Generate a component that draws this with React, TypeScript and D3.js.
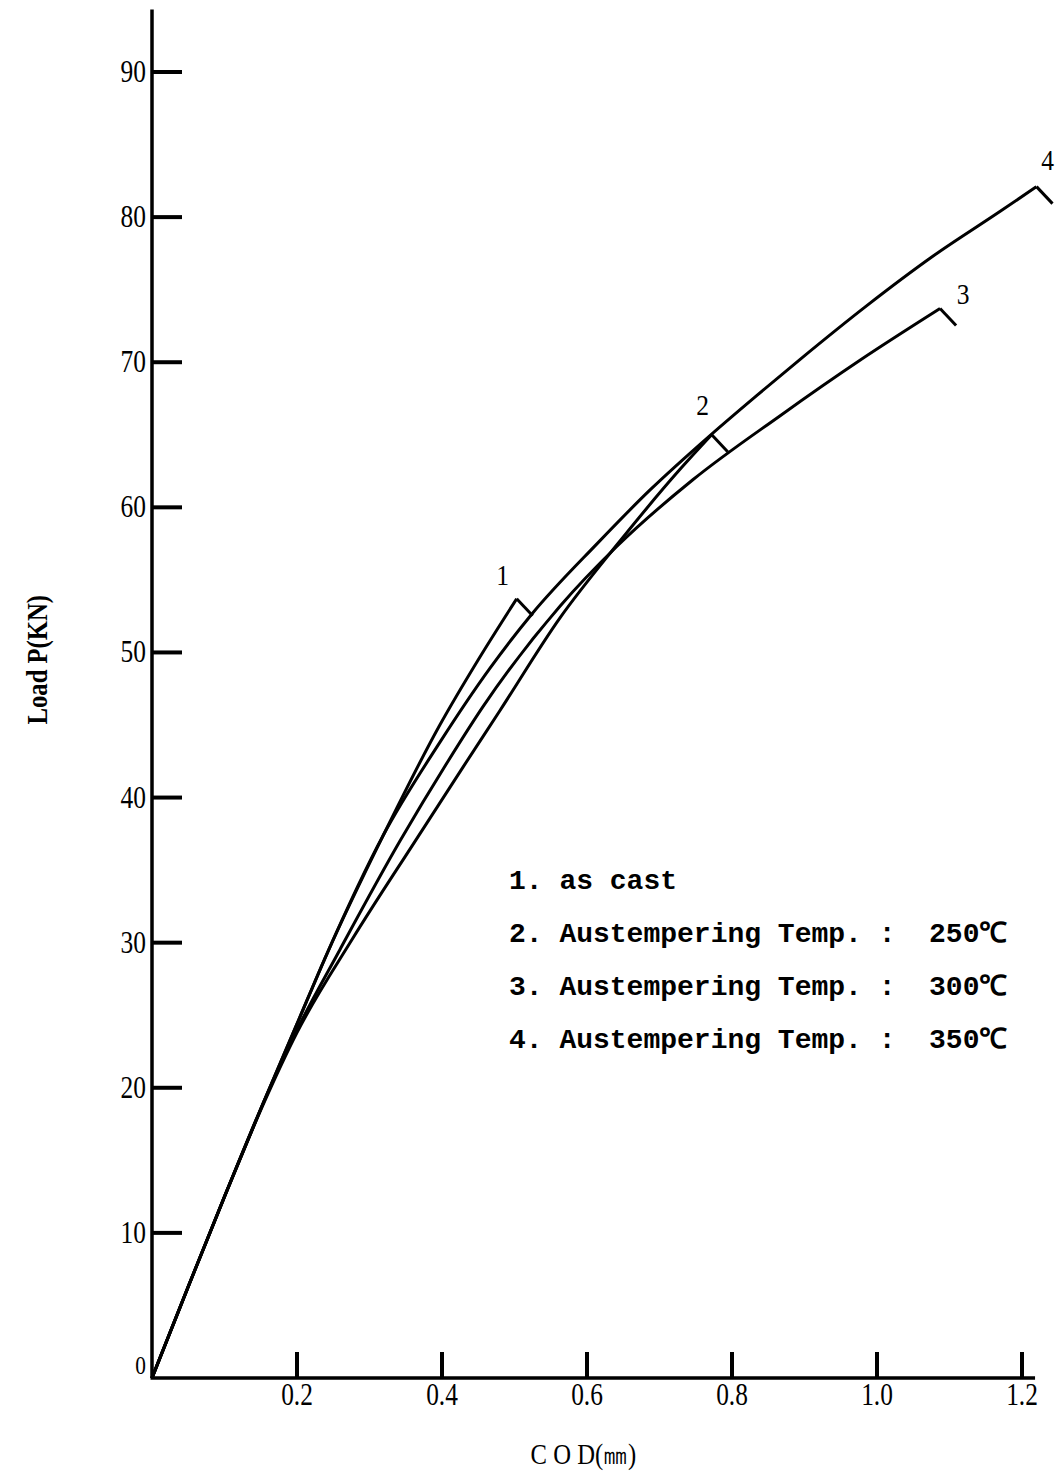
import React from 'react';
import * as d3 from 'd3';

// ---- data ----
const LOAD_TICKS = [0, 10, 20, 30, 40, 50, 60, 70, 80, 90];
const COD_TICKS = [0.2, 0.4, 0.6, 0.8, 1.0, 1.2];
const COD_TICK_LABELS = ['0.2', '0.4', '0.6', '0.8', '1.0', '1.2'];
const COD_AXIS_MAX = 1.218;
const LOAD_AXIS_MAX = 94.3;

const CURVE_IDS = ['1', '2', '3', '4'];

const curve1COD = [0, 0.05, 0.1, 0.153, 0.2, 0.241, 0.319, 0.397, 0.45, 0.503];
const curve1Load = [0, 6.3, 12.5, 18.9, 24.4, 29.2, 37.4, 45.0, 49.5, 53.7];

const curve2COD = [0, 0.05, 0.1, 0.153, 0.2, 0.277, 0.363, 0.429, 0.48, 0.563, 0.641, 0.728, 0.772];
const curve2Load = [0, 6.3, 12.5, 18.8, 23.8, 30.3, 37.0, 42.1, 46.0, 52.4, 57.4, 62.6, 65.0];

const curve3COD = [0, 0.05, 0.1, 0.153, 0.2, 0.259, 0.342, 0.407, 0.457, 0.563, 0.641, 0.746, 0.866, 0.977, 1.087];
const curve3Load = [0, 6.3, 12.5, 18.9, 24.0, 29.5, 37.0, 42.4, 46.3, 53.2, 57.3, 61.9, 66.3, 70.15, 73.7];

const curve4COD = [0, 0.05, 0.1, 0.153, 0.2, 0.241, 0.319, 0.397, 0.466, 0.524, 0.614, 0.687, 0.772, 0.834, 0.894, 0.986, 1.077, 1.17, 1.22];
const curve4Load = [0, 6.3, 12.5, 18.9, 24.4, 29.2, 37.4, 43.8, 48.9, 52.65, 57.5, 61.2, 65.05, 67.7, 70.2, 73.9, 77.3, 80.4, 82.1];

const LEGEND_LINES = [
  '1. as cast',
  '2. Austempering Temp. :  250℃',
  '3. Austempering Temp. :  300℃',
  '4. Austempering Temp. :  350℃',
];

const X_TITLE = 'C O D(㎜)';
const Y_TITLE = 'Load P(KN)';

// ---- layout / style ----
const W = 1064;
const H = 1474;
const X0 = 152;
const X1 = 1022;
const Y0 = 1378;
const Y1 = 72;
const LABEL_OFFSETS = [
  [-14, -14],
  [-9, -20],
  [23, -5],
  [11, -17],
];

export default function App() {
  const x = d3.scaleLinear().domain([0, 1.2]).range([X0, X1]);
  const y = d3.scaleLinear().domain([0, 90]).range([Y0, Y1]);

  const series = [
    { cod: curve1COD, load: curve1Load },
    { cod: curve2COD, load: curve2Load },
    { cod: curve3COD, load: curve3Load },
    { cod: curve4COD, load: curve4Load },
  ];

  const line = d3
    .line<[number, number]>()
    .x((d) => x(d[0]))
    .y((d) => y(d[1]))
    .curve(d3.curveMonotoneX);

  const digitFont = 'Liberation Serif';

  return (
    <svg
      width={W}
      height={H}
      viewBox={`0 0 ${W} ${H}`}
      style={{ position: 'absolute', left: 0, top: 0, background: '#fff' }}
    >
      <rect x={0} y={0} width={W} height={H} fill="#fff" />
      {/* axes */}
      <line x1={x(0)} y1={y(0)} x2={x(0)} y2={y(LOAD_AXIS_MAX)} stroke="#000" strokeWidth={3.5} />
      <line x1={x(0) - 1.5} y1={y(0)} x2={x(COD_AXIS_MAX)} y2={y(0)} stroke="#000" strokeWidth={3.5} />

      {LOAD_TICKS.filter((v) => v > 0).map((v) => (
        <line key={'yt' + v} x1={x(0)} y1={y(v)} x2={x(0) + 30} y2={y(v)} stroke="#000" strokeWidth={4} />
      ))}
      {COD_TICKS.map((v) => (
        <line key={'xt' + v} x1={x(v)} y1={y(0)} x2={x(v)} y2={y(0) - 26} stroke="#000" strokeWidth={4} />
      ))}

      {LOAD_TICKS.map((v) => (
        <text
          key={'yl' + v}
          transform={`translate(${x(0) - 6},${y(v) + (v === 0 ? -4 : 10)}) scale(0.82,1)`}
          textAnchor="end"
          fontFamily={digitFont}
          fontSize={v === 0 ? 26 : 31}
          fill="#000"
        >
          {v}
        </text>
      ))}
      {COD_TICKS.map((v, i) => (
        <text
          key={'xl' + v}
          transform={`translate(${x(v)},${y(0) + 27}) scale(0.82,1)`}
          textAnchor="middle"
          fontFamily={digitFont}
          fontSize={31}
          fill="#000"
        >
          {COD_TICK_LABELS[i]}
        </text>
      ))}

      {/* axis titles */}
      <text
        transform={`translate(47,${y(49.5)}) rotate(-90) scale(0.85,1)`}
        textAnchor="middle"
        fontFamily={digitFont}
        fontSize={29}
        fontWeight={700}
        fill="#000"
      >
        {Y_TITLE}
      </text>
      <text
        transform={`translate(${x(0.595)},${y(0) + 86}) scale(0.85,1)`}
        textAnchor="middle"
        fontFamily={digitFont}
        fontSize={29}
        fill="#000"
        style={{ whiteSpace: 'pre' }}
      >
        {X_TITLE}
      </text>

      {/* curves */}
      {series.map((s, i) => {
        const pts = s.cod.map((c, j) => [c, s.load[j]] as [number, number]);
        const end = pts[pts.length - 1];
        const ex = x(end[0]);
        const ey = y(end[1]);
        return (
          <g key={'c' + i}>
            <path d={line(pts) || ''} fill="none" stroke="#000" strokeWidth={3} strokeLinejoin="round" />
            <path
              d={`M${ex},${ey} L${ex + 16},${ey + 17}`}
              fill="none"
              stroke="#000"
              strokeWidth={3}
            />
            <text
              transform={`translate(${ex + LABEL_OFFSETS[i][0]},${ey + LABEL_OFFSETS[i][1]}) scale(0.85,1)`}
              textAnchor="middle"
              fontFamily={digitFont}
              fontSize={30}
              fill="#000"
            >
              {CURVE_IDS[i]}
            </text>
          </g>
        );
      })}

      {/* legend */}
      {LEGEND_LINES.map((t, i) => (
        <text
          key={'lg' + i}
          x={509}
          y={889 + i * 53}
          fontFamily="Liberation Mono"
          fontSize={28}
          fontWeight={700}
          fill="#000"
          style={{ whiteSpace: 'pre' }}
        >
          {t}
        </text>
      ))}
    </svg>
  );
}
